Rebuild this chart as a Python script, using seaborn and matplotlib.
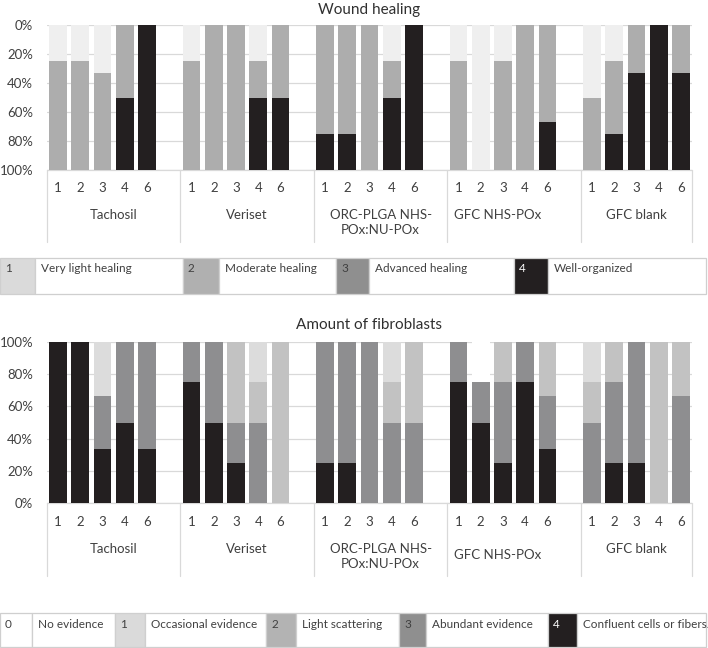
import numpy as np
import pandas as pd
import matplotlib
matplotlib.use("Agg")
import matplotlib.pyplot as plt
import seaborn as sns
from matplotlib.transforms import blended_transform_factory
from matplotlib.patches import Rectangle
from matplotlib.lines import Line2D

# ---------------- data ----------------
groups = ["Tachosil", "Veriset", "ORC-PLGA NHS-\nPOx:NU-POx", "GFC NHS-POx", "GFC blank"]
days = ["1", "2", "3", "4", "6"]

# Wound healing (% of animals per score), stacked from 0% (top) downwards
wound_very_light = [25, 25, 33.3, 0, 0,   25, 0, 0, 25, 0,    0, 0, 0, 25, 0,    25, 100, 25, 0, 0,      50, 25, 0, 0, 0]
wound_moderate   = [75, 75, 66.7, 50, 0,  75, 100, 100, 25, 50, 75, 75, 100, 25, 0, 75, 0, 75, 100, 66.7, 50, 50, 33.3, 0, 33.3]
wound_advanced   = [0, 0, 0, 0, 0,        0, 0, 0, 0, 0,      0, 0, 0, 0, 0,     0, 0, 0, 0, 0,          0, 0, 0, 0, 0]
wound_well       = [0, 0, 0, 50, 100,     0, 0, 0, 50, 50,    25, 25, 0, 50, 100, 0, 0, 0, 0, 33.3,      0, 25, 66.7, 100, 66.7]

# Amount of fibroblasts, stacked from 0% (bottom) upwards
fib_confluent  = [100, 100, 33.3, 50, 33.3, 75, 50, 25, 0, 0,   25, 25, 0, 0, 0,    75, 50, 25, 75, 33.3, 0, 25, 25, 0, 0]
fib_abundant   = [0, 0, 33.3, 50, 66.7,     25, 50, 25, 50, 0,  75, 75, 100, 50, 50, 25, 25, 50, 25, 33.3, 50, 50, 75, 0, 66.7]
fib_light      = [0, 0, 0, 0, 0,            0, 0, 50, 25, 100,  0, 0, 0, 25, 50,    0, 0, 25, 0, 33.3,   25, 25, 0, 100, 33.3]
fib_occasional = [0, 0, 33.3, 0, 0,         0, 0, 0, 25, 0,     0, 0, 0, 25, 0,     0, 0, 0, 0, 0,       25, 0, 0, 0, 0]
fib_none       = [0, 0, 0, 0, 0,            0, 0, 0, 0, 0,      0, 0, 0, 0, 0,      0, 25, 0, 0, 0,      0, 0, 0, 0, 0]

wound_legend = [("1", "Very light healing"), ("2", "Moderate healing"),
                ("3", "Advanced healing"), ("4", "Well-organized")]
fib_legend = [("0", "No evidence"), ("1", "Occasional evidence"), ("2", "Light scattering"),
              ("3", "Abundant evidence"), ("4", "Confluent cells or fibers.")]

# ---------------- style ----------------
sns.set_theme(style="white")
plt.rcParams['font.family'] = ['Lato', 'DejaVu Sans']
TXT = "#404040"
GRID = "#d9d9d9"
FS = 9.5
LFS = 8.5

W, H = 708, 648
fig = plt.figure(figsize=(W / 100, H / 100), dpi=100)


def fx(px):
    return px / W


def fy(py):
    return 1 - py / H


# slots: 5 bars per group + an empty slot between groups
slots, bar_slot = [], []
for gi, g in enumerate(groups):
    for d in days:
        bar_slot.append(f"{gi}-{d}")
        slots.append(f"{gi}-{d}")
    if gi < len(groups) - 1:
        slots.append(f"gap{gi}")

bar_day = [d for _ in groups for d in days]


def draw_stacked(ax, cols, colors):
    df = pd.DataFrame({"slot": bar_slot})
    cum = np.cumsum(np.array(cols, dtype=float), axis=0)
    for k in range(len(cols) - 1, -1, -1):
        df["v"] = cum[k]
        sns.barplot(data=df, x="slot", y="v", order=slots, color=colors[k],
                    saturation=1, width=0.8, linewidth=0, errorbar=None,
                    ax=ax, zorder=3)


def decorate(ax, y_axis_px, y_num_px, y_grp_px, y_sep_end_px, inverted, title, title_y_px,
             grp_y_override=None):
    ax.set_xlim(-0.5, len(slots) - 0.5)
    if inverted:
        ax.set_ylim(100, 0)
    else:
        ax.set_ylim(0, 100)
    ax.set_xlabel("")
    ax.set_ylabel("")
    ax.set_xticks([])
    ax.set_yticks([0, 20, 40, 60, 80, 100])
    ax.set_yticklabels([f"{v}%" for v in [0, 20, 40, 60, 80, 100]])
    ax.tick_params(axis="y", length=0, pad=10, labelsize=FS, labelcolor=TXT)
    ax.yaxis.grid(True, color=GRID, lw=0.9)
    ax.set_axisbelow(True)
    for s in ["top", "right", "left", "bottom"]:
        ax.spines[s].set_visible(False)
    tr = blended_transform_factory(ax.transData, fig.transFigure)
    # category axis line
    ax.add_line(Line2D([-0.5, len(slots) - 0.5], [fy(y_axis_px)] * 2, transform=tr,
                       color=GRID, lw=0.9, clip_on=False))
    # separators
    seps = [-0.5, 5.5, 11.5, 17.5, 23.5, 28.5]
    for sx in seps:
        ax.add_line(Line2D([sx, sx], [fy(y_axis_px), fy(y_sep_end_px)], transform=tr,
                           color=GRID, lw=0.9, clip_on=False))
    # day labels
    for s, d in zip(bar_slot, bar_day):
        ax.text(slots.index(s), fy(y_num_px), d, transform=tr, ha="center", va="center",
                fontsize=FS, color=TXT)
    # group labels
    centers = [2.5, 8.5, 14.5, 19.75, 26.0]
    for gi, (g, c) in enumerate(zip(groups, centers)):
        yp = y_grp_px
        if grp_y_override and gi in grp_y_override:
            yp = grp_y_override[gi]
        ax.text(c, fy(yp), g, transform=tr, ha="center", va="top",
                fontsize=FS, color=TXT, linespacing=1.3)
    fig.text(0.5 * (fx(47) + fx(692)), fy(title_y_px), title, ha="center", va="center",
             fontsize=11, color="#303030")


def draw_legend(top_px, bot_px, edges, items, swatch_colors, num_colors):
    for k, (num, label) in enumerate(items):
        x0, x1, x2 = edges[2 * k], edges[2 * k + 1], edges[2 * k + 2]
        fig.add_artist(Rectangle((fx(x0), fy(bot_px)), fx(x1) - fx(x0), (bot_px - top_px) / H,
                                 transform=fig.transFigure, facecolor=swatch_colors[k],
                                 edgecolor="#cfcfcf", lw=0.9))
        fig.add_artist(Rectangle((fx(x1), fy(bot_px)), fx(x2) - fx(x1), (bot_px - top_px) / H,
                                 transform=fig.transFigure, facecolor="white",
                                 edgecolor="#cfcfcf", lw=0.9))
        fig.text(fx(x0 + 5), fy(top_px + 11), num, ha="left", va="center",
                 fontsize=LFS, color=num_colors[k])
        fig.text(fx(x1 + 6), fy(top_px + 11), label, ha="left", va="center",
                 fontsize=LFS, color=TXT)


# ---------------- Wound healing ----------------
ax1 = fig.add_axes([fx(47), fy(170), fx(692) - fx(47), (170 - 25) / H])
draw_stacked(ax1, [wound_very_light, wound_moderate, wound_advanced, wound_well],
             ["#efefef", "#adadad", "#8e8e90", "#231f20"])
decorate(ax1, 170, 188, 209, 242, True, "Wound healing", 10)

draw_legend(258, 294, [0, 35, 183, 219, 336, 369, 514, 548, 706], wound_legend,
            ["#dadada", "#b0b0b0", "#8f8f8f", "#231f20"], [TXT, TXT, TXT, "white"])

# ---------------- Amount of fibroblasts ----------------
ax2 = fig.add_axes([fx(47), fy(503), fx(692) - fx(47), (503 - 342) / H])
draw_stacked(ax2, [fib_confluent, fib_abundant, fib_light, fib_occasional, fib_none],
             ["#231f20", "#8e8e90", "#c2c2c2", "#dcdcdc", "white"])
decorate(ax2, 503, 522, 543, 576, False, "Amount of fibroblasts", 325,
         grp_y_override={3: 549})

draw_legend(613, 647, [0, 32, 115, 145, 266, 296, 399, 426, 548, 577, 706], fib_legend,
            ["white", "#dadada", "#b3b3b3", "#8f8f8f", "#231f20"],
            [TXT, TXT, TXT, TXT, "white"])

fig.savefig("out.png", dpi=100)
